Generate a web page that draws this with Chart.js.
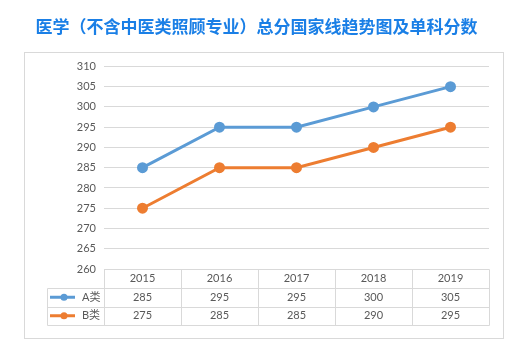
<!DOCTYPE html>
<html>
<head>
<meta charset="utf-8">
<script src="https://cdn.jsdelivr.net/npm/chart.js@4.4.1/dist/chart.umd.min.js"></script>
<style>
  html, body { margin: 0; padding: 0; background: #fff; }
  #wrap { width: 514px; height: 363px; }
</style>
</head>
<body>
<div id="wrap"><canvas id="c" width="514" height="363"></canvas></div>
<script>
// Date
const years = ['2015', '2016', '2017', '2018', '2019'];
const seriesA = [285, 295, 295, 300, 305];
const seriesB = [275, 285, 285, 290, 295];
const seriesNames = ['A类', 'B类'];
const yMin = 260;
const yMax = 310;
const yStep = 5;

const COLOR_A = '#5B9BD5';
const COLOR_B = '#ED7D31';
const GRID = '#d9d9d9';
const TEXT = '#595959';
const FONT = 'Lato, "Noto Sans CJK SC", sans-serif';

// Chenar exterior + tabel de date sub grafic
const frameAndTable = {
    id: 'frameAndTable',
    afterDraw(chart) {
        const ctx = chart.ctx;
        const x = chart.scales.x;
        const area = chart.chartArea;
        ctx.save();

        // chenar exterior
        ctx.strokeStyle = GRID;
        ctx.lineWidth = 1;
        ctx.strokeRect(24.5, 52.5, 479, 286);

        const top = Math.round(area.bottom) + 0.5;
        const rowH = 18.5;
        const legendLeft = 47.5;
        const half = (x.getPixelForValue(1) - x.getPixelForValue(0)) / 2;
        const edges = [];
        for (let i = 0; i <= years.length; i++) {
            const p = i < years.length ? x.getPixelForValue(i) - half : x.getPixelForValue(years.length - 1) + half;
            edges.push(Math.round(p) + 0.5);
        }
        const right = edges[edges.length - 1];

        ctx.strokeStyle = GRID;
        ctx.beginPath();
        // linii orizontale
        ctx.moveTo(edges[0], top); ctx.lineTo(right, top);
        for (let r = 1; r <= 3; r++) {
            const yy = Math.round(top + r * rowH) + 0.5;
            ctx.moveTo(legendLeft, yy);
            ctx.lineTo(right, yy);
        }
        // linii verticale
        edges.forEach((e) => { ctx.moveTo(e, top); ctx.lineTo(e, Math.round(top + 3 * rowH) + 0.5); });
        ctx.moveTo(legendLeft, Math.round(top + rowH) + 0.5);
        ctx.lineTo(legendLeft, Math.round(top + 3 * rowH) + 0.5);
        ctx.stroke();

        ctx.font = '11px ' + FONT;
        ctx.fillStyle = TEXT;
        ctx.textAlign = 'center';
        ctx.textBaseline = 'middle';
        const rows = [years, seriesA, seriesB];
        rows.forEach((row, r) => {
            const cy = top + r * rowH + rowH / 2;
            row.forEach((v, i) => ctx.fillText(String(v), x.getPixelForValue(i), cy));
        });

        // legenda in tabel
        [COLOR_A, COLOR_B].forEach((col, k) => {
            const cy = top + (k + 1) * rowH + rowH / 2;
            ctx.strokeStyle = col;
            ctx.lineWidth = 3;
            ctx.beginPath();
            ctx.moveTo(50, cy); ctx.lineTo(75, cy);
            ctx.stroke();
            ctx.fillStyle = col;
            ctx.beginPath();
            ctx.arc(64, cy, 3.5, 0, Math.PI * 2);
            ctx.fill();
            ctx.fillStyle = TEXT;
            ctx.textAlign = 'left';
            ctx.fillText(seriesNames[k], 82, cy);
        });
        ctx.restore();
    },
};

new Chart(document.getElementById('c'), {
    type: 'line',
    data: {
        labels: years,
        datasets: [
            { label: seriesNames[0], data: seriesA, borderColor: COLOR_A, backgroundColor: COLOR_A, borderWidth: 3, pointRadius: 4, pointHoverRadius: 4 },
            { label: seriesNames[1], data: seriesB, borderColor: COLOR_B, backgroundColor: COLOR_B, borderWidth: 3, pointRadius: 4, pointHoverRadius: 4 },
        ],
    },
    options: {
        responsive: false,
        animation: false,
        layout: { padding: { left: 24, right: 25, top: 0, bottom: 94 } },
        plugins: {
            legend: { display: false },
            tooltip: { enabled: false },
            title: {
                display: true,
                text: '医学（不含中医类照顾专业）总分国家线趋势图及单科分数',
                color: '#1A7FE6',
                font: { size: 17, family: '"Noto Sans CJK SC", sans-serif', weight: 'bold' },
                padding: { top: 16, bottom: 30 },
            },
        },
        scales: {
            x: { type: 'category', offset: true, display: false },
            y: {
                min: yMin,
                max: yMax,
                afterFit: (s) => { s.width = 80; },
                border: { display: false },
                grid: { color: GRID, drawTicks: false },
                ticks: { stepSize: yStep, color: TEXT, padding: 8, font: { size: 11, family: FONT } },
            },
        },
    },
    plugins: [frameAndTable],
});
</script>
</body>
</html>
